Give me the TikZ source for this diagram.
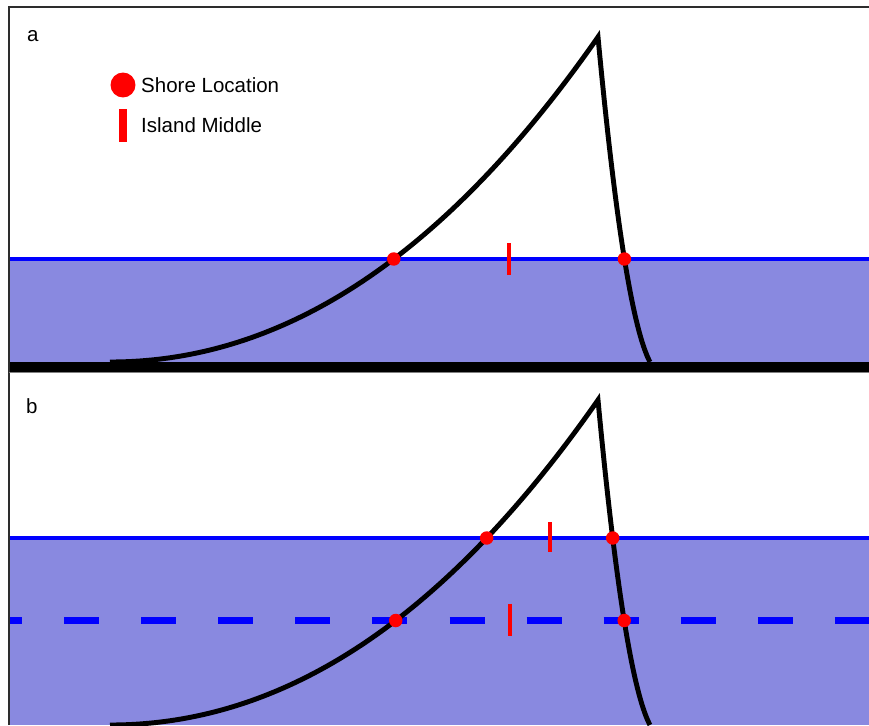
\documentclass[tikz,border=0pt]{standalone}
\usepackage{fontspec}
\setmainfont{Liberation Sans}
\usetikzlibrary{calc, intersections}
\definecolor{agua}{RGB}{137,137,224}
\definecolor{moldura}{RGB}{45,45,45}
\tikzset{
    costa/.style={draw=black, line width=4.2pt, line join=miter},
    nivel/.style={draw=blue, line width=3.4pt},
    nivelantigo/.style={draw=blue, line width=6pt, dash pattern=on 29.9pt off 35.9pt, dash phase=18.8pt},
    ponto/.style={circle, fill=red, inner sep=0pt, minimum size=11.5pt},
    meio/.style={draw=red, line width=3.4pt},
    rotulo/.style={font=\fontsize{17.5}{20}\selectfont, inner sep=0pt, anchor=base west}
}

\begin{document}
\begin{tikzpicture}[x=0.03cm, y=-0.03cm]
    \useasboundingbox (0,0) rectangle (869,725);
    % painel a
    \fill[agua] (9,259) rectangle (869,362);
    \draw[nivel, name path=nivA] (9,259) -- (869,259);
    \draw[costa, name path=ilhaA] plot[domain=0:1, samples=100] ({110+488*\x},{362-325*(0.85*\x*\x+0.15*\x*\x*\x)})
        -- plot[domain=1:0, samples=50] ({650-52*\x},{362-325*(0.3*\x+0.7*\x*\x)});
    \draw[line width=7.7pt] (9,367) -- (869,367);
    \path[name intersections={of=ilhaA and nivA, by={sA1,sA2}}];
    \draw[meio] ($(sA1)!0.5!(sA2)$) ++(0,-16) -- ++(0,32);
    \node[ponto] (shoreA1) at (sA1) {};
    \node[ponto] (shoreA2) at (sA2) {};

    % painel b
    \fill[agua] (9,538) rectangle (869,725);
    \draw[nivel, name path=nivB] (9,538) -- (869,538);
    \draw[nivelantigo, name path=nivC] (9,620.5) -- (869,620.5);
    \draw[costa, name path=ilhaB] plot[domain=0:1, samples=100] ({110+488*\x},{725-325*(0.85*\x*\x+0.15*\x*\x*\x)})
        -- plot[domain=1:0, samples=50] ({650-52*\x},{725-325*(0.3*\x+0.7*\x*\x)});
    \path[name intersections={of=ilhaB and nivB, by={sB1,sB2}}];
    \path[name intersections={of=ilhaB and nivC, by={sC1,sC2}}];
    \draw[meio] ($(sB1)!0.5!(sB2)$) ++(0,-16) -- ++(0,30);
    \draw[meio] ($(sC1)!0.5!(sC2)$) ++(0,-17) -- ++(0,32);
    \node[ponto] (shoreB1) at (sB1) {};
    \node[ponto] (shoreB2) at (sB2) {};
    \node[ponto] (shoreC1) at (sC1) {};
    \node[ponto] (shoreC2) at (sC2) {};

    % moldura
    \draw[moldura, line width=1.3pt] (9,725) -- (9,7) -- (869,7);
    \draw[gray, line width=0.8pt] (9,372.5) -- (869,372.5);

    % legenda
    \node[ponto, minimum size=21.3pt] (legDot) at (123,85) {};
    \draw[meio, line width=6pt] (123,109) -- (123,142);
    \node[rotulo] (legShore) at (141,92.5) {Shore Location};
    \node[rotulo] (legMiddle) at (141,132.3) {Island Middle};
    \node[rotulo] (lblA) at (27,41.7) {a};
    \node[rotulo] (lblB) at (26,413) {b};
\end{tikzpicture}
\end{document}
